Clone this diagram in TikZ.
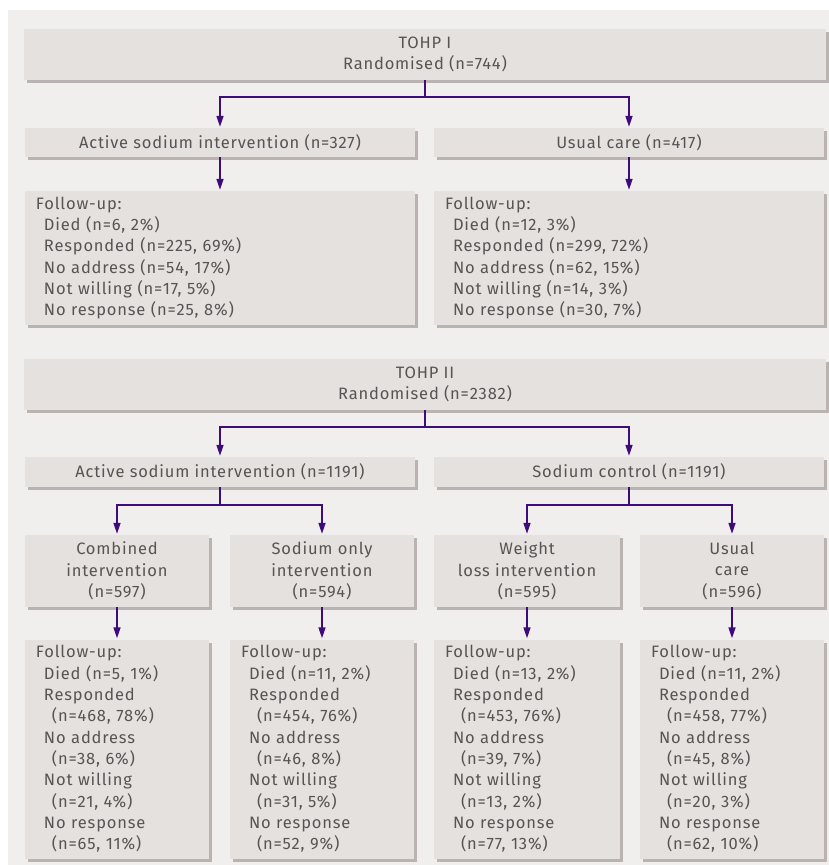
\documentclass[tikz,border=0pt]{standalone}
\usepackage{fontspec}
\setmainfont{Fira Sans}[LetterSpace=5]
\usetikzlibrary{arrows.meta,shadows}
\definecolor{panelc}{HTML}{F1EFEE}
\definecolor{boxc}{HTML}{E5E1DF}
\definecolor{shadc}{HTML}{BBB3B0}
\definecolor{txtc}{HTML}{575455}
\definecolor{arrc}{HTML}{3D0B7A}
\newcommand\myi{\hspace*{8bp}}
\newcommand\myii{\hspace*{16bp}}
\tikzset{
  bx/.style={fill=boxc, text=txtc, inner sep=0pt, align=center,
    font={\fontsize{16.5bp}{21.3bp}\selectfont},
    drop shadow={shadow xshift=3bp, shadow yshift=-3bp, fill=shadc, opacity=1}},
  fu/.style={bx, align=left, inner xsep=11bp},
  ln/.style={draw=arrc, line width=1.6bp},
  ar/.style={ln, -{Triangle[length=11bp,width=7bp]}, shorten >=1bp},
}
\begin{document}
\begin{tikzpicture}[x=1bp,y=-1bp]
\useasboundingbox (0,0) rectangle (829,865);
\fill[panelc] (8,10) rectangle (829,865);

% TOHP I
\node[bx, minimum width=801bp, minimum height=51bp] (b1) at (425,54.5) {TOHP I\\Randomised (n=744)};
\node[bx, minimum width=390bp, minimum height=29bp] (a1) at (220,142.5) {Active sodium intervention (n=327)};
\node[bx, minimum width=390bp, minimum height=29bp] (u1) at (629,142.5) {Usual care (n=417)};
\node[fu, minimum width=390bp, minimum height=134bp, text width=368bp] (f1) at (220,258) {Follow-up:\\
\myi Died (n=6, 2\%)\\
\myi Responded (n=225, 69\%)\\
\myi No address (n=54, 17\%)\\
\myi Not willing (n=17, 5\%)\\
\myi No response (n=25, 8\%)};
\node[fu, minimum width=390bp, minimum height=134bp, text width=368bp] (f2) at (629,258) {Follow-up:\\
\myi Died (n=12, 3\%)\\
\myi Responded (n=299, 72\%)\\
\myi No address (n=62, 15\%)\\
\myi Not willing (n=14, 3\%)\\
\myi No response (n=30, 7\%)};

\coordinate (j1) at (425,97);
\draw[ln] (b1.south) -- (j1);
\draw[ar] (j1) -| (a1.north);
\draw[ar] (j1) -| (u1.north);
\draw[ar] (a1.south) -- (f1.north);
\draw[ar] (u1.south) -- (f2.north);

% TOHP II
\node[bx, minimum width=801bp, minimum height=51bp] (b2) at (425,384.5) {TOHP II\\Randomised (n=2382)};
\node[bx, minimum width=390bp, minimum height=30bp] (a2) at (220,472) {Active sodium intervention (n=1191)};
\node[bx, minimum width=390bp, minimum height=30bp] (s2) at (629,472) {Sodium control (n=1191)};

\node[bx, minimum width=184bp, minimum height=72bp] (c1) at (117,571) {Combined\\intervention\\(n=597)};
\node[bx, minimum width=184bp, minimum height=72bp] (c2) at (322,571) {Sodium only\\intervention\\(n=594)};
\node[bx, minimum width=186bp, minimum height=72bp] (c3) at (527,571) {Weight\\loss intervention\\(n=595)};
\node[bx, minimum width=184bp, minimum height=72bp] (c4) at (732,571) {Usual\\care\\(n=596)};

\node[fu, minimum width=184bp, minimum height=219bp, text width=162bp] (g1) at (117,749) {Follow-up:\\
\myi Died (n=5, 1\%)\\
\myi Responded\\
\myii (n=468, 78\%)\\
\myi No address\\
\myii (n=38, 6\%)\\
\myi Not willing\\
\myii (n=21, 4\%)\\
\myi No response\\
\myii (n=65, 11\%)};
\node[fu, minimum width=184bp, minimum height=219bp, text width=162bp] (g2) at (322,749) {Follow-up:\\
\myi Died (n=11, 2\%)\\
\myi Responded\\
\myii (n=454, 76\%)\\
\myi No address\\
\myii (n=46, 8\%)\\
\myi Not willing\\
\myii (n=31, 5\%)\\
\myi No response\\
\myii (n=52, 9\%)};
\node[fu, minimum width=186bp, minimum height=219bp, text width=164bp] (g3) at (527,749) {Follow-up:\\
\myi Died (n=13, 2\%)\\
\myi Responded\\
\myii (n=453, 76\%)\\
\myi No address\\
\myii (n=39, 7\%)\\
\myi Not willing\\
\myii (n=13, 2\%)\\
\myi No response\\
\myii (n=77, 13\%)};
\node[fu, minimum width=184bp, minimum height=219bp, text width=162bp] (g4) at (732,749) {Follow-up:\\
\myi Died (n=11, 2\%)\\
\myi Responded\\
\myii (n=458, 77\%)\\
\myi No address\\
\myii (n=45, 8\%)\\
\myi Not willing\\
\myii (n=20, 3\%)\\
\myi No response\\
\myii (n=62, 10\%)};

\coordinate (j2) at (425,427);
\coordinate (j3) at (220,505);
\coordinate (j4) at (629,505);
\draw[ln] (b2.south) -- (j2);
\draw[ar] (j2) -| (a2.north);
\draw[ar] (j2) -| (s2.north);
\draw[ln] (a2.south) -- (j3);
\draw[ln] (s2.south) -- (j4);
\draw[ar] (j3) -| (c1.north);
\draw[ar] (j3) -| (c2.north);
\draw[ar] (j4) -| (c3.north);
\draw[ar] (j4) -| (c4.north);
\draw[ar] (c1.south) -- (g1.north);
\draw[ar] (c2.south) -- (g2.north);
\draw[ar] (c3.south) -- (g3.north);
\draw[ar] (c4.south) -- (g4.north);
\end{tikzpicture}
\end{document}
